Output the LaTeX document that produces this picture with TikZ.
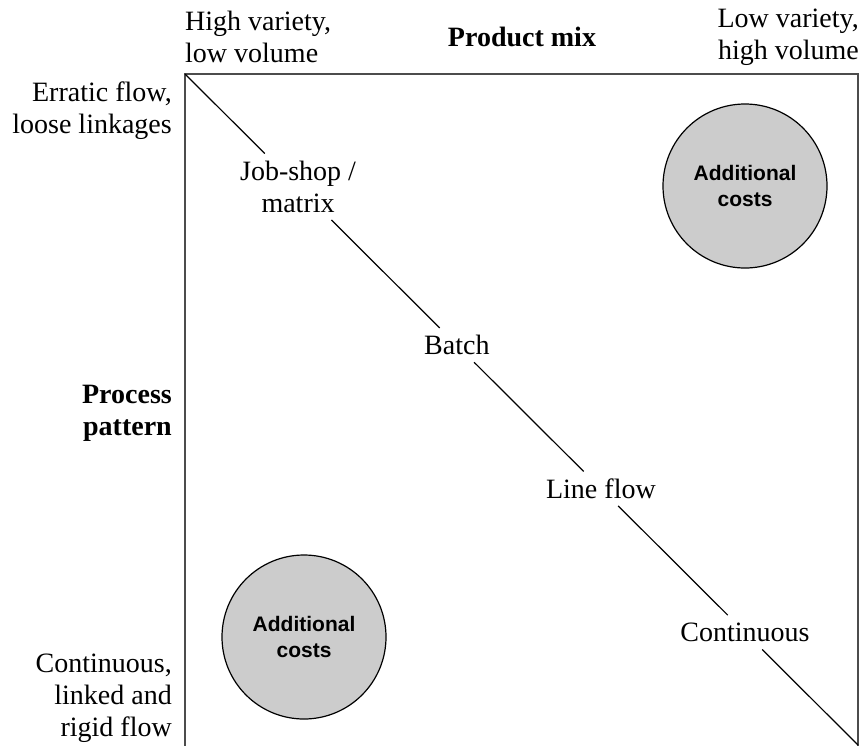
\documentclass[tikz,border=0pt]{standalone}
\usepackage{fontspec}
\setmainfont{Liberation Serif}
\newfontfamily\costfont{Liberation Sans}
\usetikzlibrary{calc}
\begin{document}
\begin{tikzpicture}[x=1pt,y=-1pt,
  txt/.style={font=\fontsize{28}{32}\selectfont, inner sep=0pt},
  axislabel/.style={inner sep=0pt, font=\fontsize{28}{32}\selectfont\bfseries},
  stage/.style={txt, minimum height=34pt, minimum width=40pt},
  frame/.style={draw=black!70, line width=1.8pt},
  diag/.style={draw=black, line width=1.2pt},
  costs/.style={circle, draw=black, line width=1.2pt, fill=black!20,
    minimum size=164pt, inner sep=0pt, align=center,
    font=\costfont\bfseries\fontsize{21}{26}\selectfont}]
  \useasboundingbox (0,0) rectangle (861,745);

  % corners of the matrix
  \coordinate (tl) at (185,74);
  \coordinate (br) at (858,745);
  \draw[frame] (tl) rectangle ($(br)+(0,3)$);

  % axis headings
  \node[axislabel, anchor=base] (mix) at (522,46) {Product mix};
  \node[txt, align=left, anchor=west] (hv) at (185,37) {High variety,\\low volume};
  \node[txt, align=right, anchor=east] (lv) at (859,37) {Low variety,\\high volume};
  \node[txt, align=right, anchor=east] (erratic) at (172,111) {Erratic flow,\\loose linkages};
  \node[axislabel, align=right, anchor=east] (process) at (172,413) {Process\\pattern};
  \node[txt, align=right, anchor=east] (rigid) at (172,698) {Continuous,\\linked and\\rigid flow};

  % process types along the diagonal
  \node[stage, minimum height=66pt, align=center] (job) at ($(tl)!0.168!(br)$) {Job-shop /\\matrix};
  \node[stage] (batch) at ($(tl)!0.404!(br)$) {Batch};
  \node[stage] (lineflow) at ($(tl)!0.618!(br)$) {Line flow};
  \node[stage] (cont) at ($(tl)!0.832!(br)$) {Continuous};
  \draw[diag] (tl) -- (job) (job) -- (batch) (batch) -- (lineflow)
    (lineflow) -- (cont) (cont) -- (br);

  % off-diagonal cost regions
  \node[costs] (costsTR) at (745,186) {Additional\\costs};
  \node[costs] (costsBL) at (304,637) {Additional\\costs};
\end{tikzpicture}
\end{document}
